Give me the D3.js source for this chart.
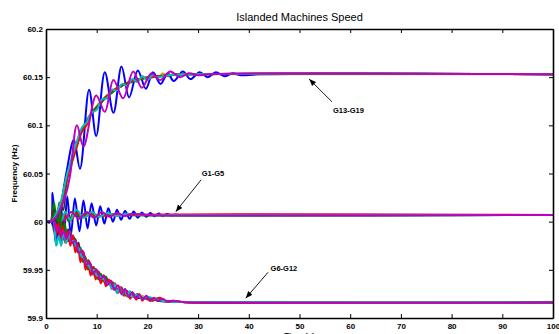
<!DOCTYPE html>
<html>
<head>
<meta charset="utf-8">
<script src="https://cdn.jsdelivr.net/npm/d3@7"></script>
<style>
  html, body { margin: 0; padding: 0; background: #fff; }
  svg { display: block; }
  .tick text { font-family: "Liberation Sans", Arial, sans-serif; font-weight: bold; font-size: 8px; fill: #000; }
</style>
</head>
<body>
<div id="chart"></div>
<script>
// [time (s), frequency (Hz)], one array per machine

// G1-G5
const g1 = [[0,60],[0.9,60],[1.3,60.03],[2.1,59.976],[2.9,60.018],[3.5,59.985],[4.2,60.026],[4.9,59.986],[5.7,60.024],[6.6,59.99],[7.4,60.022],[8.2,59.993],[9.0,60.019],[9.9,59.996],[10.7,60.016],[11.5,59.998],[12.3,60.014],[13.2,60.0],[14.0,60.0125],[14.8,60.002],[15.6,60.011],[16.5,60.003],[17.3,60.0105],[18.1,60.004],[18.9,60.0095],[19.8,60.005],[20.6,60.009],[21.4,60.0055],[22.2,60.0085],[23.0,60.006],[23.9,60.008],[24.7,60.0065],[25.5,60.0075],[26.3,60.0068],[28,60.007],[100,60.007]];
const g2 = [[0,60],[1,60],[1.5,60.012],[2,59.99],[2.6,60.02],[3.2,59.995],[3.8,60.01],[4.5,60.0],[5.5,60.01],[7,60.004],[8.5,60.009],[10,60.005],[12,60.008],[15,60.007],[100,60.007]];
const g3 = [[0,60],[1,60],[1.4,60.005],[2,59.985],[2.7,60.012],[3.3,59.99],[4,60.008],[5,60.002],[6,60.009],[7.5,60.005],[9,60.008],[11,60.006],[14,60.007],[100,60.007]];
const g4 = [[0,60],[1,60],[1.6,59.99],[2.3,60.012],[3,60.0],[3.8,60.01],[4.8,60.002],[6,60.012],[7.5,60.004],[9,60.01],[10.5,60.005],[12,60.009],[14,60.006],[16,60.008],[20,60.007],[100,60.007]];
const g5 = [[0,60],[1,60],[1.5,60.008],[2.2,59.992],[3,59.998],[4,60.004],[5,60.01],[6.5,60.003],[8,60.01],[9.5,60.004],[11,60.01],[12.5,60.005],[14,60.009],[15.5,60.006],[17,60.008],[20,60.007],[100,60.007]];

// G6-G12
const g6 = [[0,60],[1,60],[1.5,60.006],[2,59.99],[2.5,60.0],[3,59.985],[3.5,59.995],[4,59.984],[4.5,59.99],[5,59.98],[5.5,59.983],[6,59.972],[6.5,59.975],[7,59.962],[7.5,59.966],[8,59.953],[8.5,59.956],[9,59.946],[9.5,59.95],[10,59.942],[10.5,59.946],[11,59.939],[11.5,59.942],[12,59.935],[13,59.936],[14,59.927],[15,59.929],[16,59.922],[17,59.926],[18,59.921],[19,59.923],[20,59.919],[22,59.92],[24,59.917],[27,59.9165],[30,59.916],[100,59.916]];
const g7 = [[0,60],[1,60],[1.4,60.015],[1.9,59.995],[2.4,60.012],[2.9,59.99],[3.4,60.0],[3.9,59.985],[4.4,59.992],[4.9,59.98],[5.4,59.985],[5.9,59.973],[6.4,59.978],[6.9,59.963],[7.4,59.968],[7.9,59.954],[8.4,59.96],[8.9,59.948],[9.4,59.953],[9.9,59.943],[10.4,59.948],[10.9,59.94],[11.4,59.944],[12,59.936],[13,59.935],[14,59.929],[15,59.928],[16,59.923],[17,59.925],[18,59.921],[20,59.921],[22,59.918],[25,59.917],[30,59.916],[100,59.916]];
const g8 = [[0,60],[1,60],[1.5,59.995],[2,59.978],[2.6,59.99],[3.2,59.98],[3.8,59.992],[4.4,59.98],[5,59.986],[5.6,59.975],[6.2,59.977],[6.8,59.965],[7.4,59.966],[8,59.955],[8.6,59.957],[9.2,59.948],[9.8,59.949],[10.4,59.943],[11,59.944],[12,59.938],[13,59.934],[14,59.93],[15,59.927],[16,59.925],[18,59.922],[20,59.92],[23,59.918],[27,59.9165],[100,59.916]];
const g9 = [[0,60],[1,60],[1.6,60.02],[2.2,59.992],[2.7,60.01],[3.2,59.985],[3.7,59.998],[4.2,59.98],[4.8,59.99],[5.3,59.978],[5.8,59.982],[6.3,59.968],[6.8,59.973],[7.3,59.958],[7.8,59.963],[8.3,59.95],[8.8,59.956],[9.3,59.945],[9.8,59.951],[10.3,59.94],[10.8,59.946],[11.3,59.938],[11.8,59.943],[12.5,59.935],[13.2,59.937],[14,59.929],[14.8,59.932],[15.6,59.925],[16.4,59.927],[17.2,59.922],[18,59.925],[19,59.92],[20,59.922],[21,59.918],[22,59.92],[24,59.917],[27,59.9165],[100,59.916]];
const g10 = [[0,60],[1,60],[1.4,60.01],[1.8,59.985],[2.3,60.005],[2.8,59.98],[3.3,59.995],[3.8,59.978],[4.3,59.99],[4.8,59.975],[5.3,59.986],[5.8,59.968],[6.3,59.976],[6.8,59.958],[7.3,59.968],[7.8,59.95],[8.3,59.96],[8.8,59.944],[9.3,59.953],[9.8,59.94],[10.3,59.948],[10.8,59.936],[11.3,59.944],[11.8,59.933],[12.4,59.94],[13,59.93],[13.6,59.936],[14.2,59.926],[14.8,59.932],[15.4,59.923],[16,59.928],[16.6,59.92],[17.2,59.926],[17.8,59.919],[18.4,59.924],[19,59.918],[19.6,59.922],[20.5,59.918],[22.5,59.921],[23.5,59.917],[25,59.918],[27,59.9165],[30,59.916],[100,59.916]];
const g11 = [[0,60],[1,60],[1.5,60.008],[2,59.975],[2.5,59.985],[3,59.975],[3.5,59.99],[4,59.978],[4.5,59.988],[5,59.98],[5.5,59.98],[6,59.974],[6.5,59.972],[7,59.964],[7.5,59.962],[8,59.956],[8.5,59.954],[9,59.949],[9.5,59.95],[10,59.944],[10.5,59.944],[11,59.941],[11.5,59.94],[12,59.936],[12.5,59.936],[13,59.93],[13.5,59.935],[14,59.926],[14.5,59.932],[15,59.924],[15.5,59.93],[16,59.923],[16.5,59.928],[17,59.922],[18,59.924],[19,59.92],[20,59.922],[22,59.919],[24,59.917],[27,59.9165],[100,59.916]];
const g12 = [[0,60],[1,60],[1.5,60.01],[2,59.99],[2.5,59.995],[3,59.985],[3.5,59.99],[4,59.982],[4.6,59.99],[5.2,59.978],[5.8,59.98],[6.5,59.968],[7.2,59.97],[7.9,59.955],[8.6,59.958],[9.3,59.946],[10,59.95],[10.7,59.94],[11.4,59.944],[12.1,59.934],[12.8,59.939],[13.5,59.929],[14.2,59.934],[14.9,59.925],[15.6,59.93],[16.3,59.922],[17,59.927],[17.7,59.92],[18.4,59.925],[19.1,59.919],[19.8,59.923],[20.5,59.918],[21.3,59.921],[22,59.918],[23,59.92],[24,59.917],[25,59.918],[27,59.9165],[30,59.916],[100,59.916]];

// G13-G19
const g13 = [[0,60],[1,60],[2,60.005],[2.8,60.015],[3.5,60.03],[4.2,60.05],[4.6,60.052],[5.2,60.062],[6,60.076],[7,60.094],[8,60.106],[9,60.113],[10,60.12],[11,60.126],[12,60.13],[13,60.135],[14,60.139],[15,60.142],[16,60.143],[17,60.147],[18,60.145],[19,60.151],[20,60.147],[21,60.153],[22,60.149],[23,60.154],[24,60.151],[26,60.153],[30,60.153],[100,60.153]];
const g14 = [[0,60],[1,60],[1.6,60.012],[2.2,59.998],[2.8,60.02],[3.4,60.012],[4,60.04],[4.5,60.055],[5,60.062],[6,60.078],[7,60.093],[8,60.104],[9,60.112],[10,60.118],[11,60.124],[12,60.13],[13,60.134],[14,60.138],[15,60.141],[16,60.144],[17,60.146],[18,60.147],[19,60.149],[20,60.15],[22,60.151],[24,60.152],[27,60.153],[100,60.153]];
const g15 = [[0,60],[1,60],[2,60.004],[3,60.02],[4,60.05],[5.5,60.085],[6.7,60.055],[8.5,60.137],[9.9,60.089],[11.6,60.155],[13.3,60.113],[14.9,60.161],[16.4,60.129],[18.1,60.157],[19.7,60.138],[21.1,60.155],[22.6,60.143],[24,60.154],[25.2,60.146],[27,60.156],[28.5,60.148],[30.3,60.155],[31.9,60.15],[33.5,60.155],[35.2,60.151],[36.8,60.154],[38.5,60.152],[42,60.153],[100,60.153]];
const g16 = [[0,60],[1,60],[1.8,60.01],[2.4,60.0],[3,60.018],[3.6,60.028],[4.2,60.045],[5,60.06],[6,60.079],[7,60.094],[8,60.103],[9,60.113],[10,60.119],[11,60.125],[12,60.131],[13,60.134],[14,60.139],[15,60.141],[16,60.144],[17,60.145],[18,60.148],[19,60.148],[20,60.15],[22,60.151],[24,60.152],[27,60.153],[100,60.153]];
const g17 = [[0,60],[1,60],[2,60.006],[3,60.02],[4,60.042],[5,60.061],[6,60.077],[7,60.093],[7.6,60.097],[8,60.1],[9,60.113],[10,60.117],[11,60.126],[12,60.13],[13,60.136],[14,60.138],[15,60.142],[16,60.143],[17,60.146],[18,60.147],[19,60.149],[20,60.149],[22,60.151],[24,60.152],[27,60.153],[100,60.153]];
const g18 = [[0,60],[1,60],[2,60.008],[3,60.022],[4,60.046],[5,60.065],[6,60.082],[7,60.097],[8,60.103],[9,60.113],[10,60.116],[11,60.127],[12,60.128],[13,60.137],[14,60.136],[15,60.143],[16,60.141],[17,60.148],[18,60.145],[19,60.151],[20,60.147],[21,60.152],[22,60.15],[24,60.152],[27,60.153],[100,60.153]];
const g19 = [[0,60],[1,60],[2,60.005],[3,60.015],[4,60.03],[4.8,60.05],[6.1,60.1],[7.4,60.078],[9.9,60.131],[11.6,60.114],[13.3,60.147],[15.2,60.128],[17.2,60.156],[18.9,60.139],[20.8,60.154],[22.5,60.147],[24.5,60.156],[26.4,60.15],[28.2,60.154],[30,60.152],[32,60.153],[100,60.153]];

const machines = [g1, g2, g3, g4, g5, g6, g7, g8, g9, g10, g11, g12, g13, g14, g15, g16, g17, g18, g19];
const colorOrder = ["#0000ff", "#008000", "#ff0000", "#00bfbf", "#bf00bf", "#bfbf00", "#333333"];

const xTicks = [0, 10, 20, 30, 40, 50, 60, 70, 80, 90, 100];
const yTicks = [59.9, 59.95, 60, 60.05, 60.1, 60.15, 60.2];

// group labels: text anchor, arrow start, arrow tip (time, Hz)
const groupLabels = ["G13-G19", "G1-G5", "G6-G12"];
const labelAt = [[56.6, 60.1128], [30.7, 60.0474], [44.3, 59.9488]];
const arrowFrom = [[56.4, 60.1245], [30.6, 60.0435], [43.8, 59.9475]];
const arrowTo = [[51.9, 60.148], [25.6, 60.0104], [39.4, 59.9205]];

const width = 559, height = 334;
const margin = { top: 29, right: 6, bottom: 16, left: 46 };

const svg = d3.select("#chart").append("svg")
  .attr("width", width)
  .attr("height", height);

const x = d3.scaleLinear().domain([0, 100]).range([margin.left, width - margin.right]);
const y = d3.scaleLinear().domain([59.9, 60.2]).range([height - margin.bottom, margin.top]);

svg.append("defs").append("clipPath").attr("id", "plot-clip")
  .append("rect")
  .attr("x", x(0)).attr("y", y(60.2))
  .attr("width", x(100) - x(0)).attr("height", y(59.9) - y(60.2));

const line = d3.line()
  .x(d => x(d[0]))
  .y(d => y(d[1]))
  .curve(d3.curveCatmullRom.alpha(0.5));

svg.append("g")
  .attr("clip-path", "url(#plot-clip)")
  .selectAll("path")
  .data(machines)
  .join("path")
    .attr("d", line)
    .attr("fill", "none")
    .attr("stroke", (d, i) => colorOrder[i % colorOrder.length])
    .attr("stroke-width", 2)
    .attr("stroke-linejoin", "round");

// axes, MATLAB box style with inward ticks
const tickLen = 4;
const styleAxis = g => {
  g.select(".domain").attr("stroke", "#000").attr("stroke-width", 1.6);
  g.selectAll(".tick line").attr("stroke", "#000").attr("stroke-width", 1);
};

svg.append("g")
  .attr("transform", `translate(0,${y(59.9)})`)
  .call(d3.axisBottom(x).tickValues(xTicks).tickSize(-tickLen).tickSizeOuter(0).tickPadding(5).tickFormat(d3.format("d")))
  .call(styleAxis);

svg.append("g")
  .attr("transform", `translate(0,${y(60.2)})`)
  .call(d3.axisTop(x).tickValues(xTicks).tickSize(-tickLen).tickSizeOuter(0).tickFormat(""))
  .call(styleAxis);

svg.append("g")
  .attr("transform", `translate(${x(0)},0)`)
  .call(d3.axisLeft(y).tickValues(yTicks).tickSize(-tickLen).tickSizeOuter(0).tickPadding(3).tickFormat(d => String(+d.toFixed(2))))
  .call(styleAxis);

svg.append("g")
  .attr("transform", `translate(${x(100)},0)`)
  .call(d3.axisRight(y).tickValues(yTicks).tickSize(-tickLen).tickSizeOuter(0).tickFormat(""))
  .call(styleAxis);

// title and axis labels
svg.append("text")
  .attr("x", (x(0) + x(100)) / 2)
  .attr("y", 21)
  .attr("text-anchor", "middle")
  .style("font-family", "Liberation Sans, Arial, sans-serif")
  .style("font-size", "11px")
  .text("Islanded Machines Speed");

svg.append("text")
  .attr("x", (x(0) + x(100)) / 2)
  .attr("y", 338)
  .attr("text-anchor", "middle")
  .style("font-family", "Liberation Sans, Arial, sans-serif")
  .style("font-weight", "bold")
  .style("font-size", "8px")
  .text("Time (s)");

svg.append("text")
  .attr("transform", `translate(17,${(y(59.9) + y(60.2)) / 2}) rotate(-90)`)
  .attr("text-anchor", "middle")
  .style("font-family", "Liberation Sans, Arial, sans-serif")
  .style("font-weight", "bold")
  .style("font-size", "8px")
  .text("Frequency (Hz)");

// annotation arrows
svg.select("defs").append("marker")
  .attr("id", "arrowhead")
  .attr("viewBox", "0 -5 10 10")
  .attr("refX", 10).attr("refY", 0)
  .attr("markerWidth", 7).attr("markerHeight", 7)
  .attr("markerUnits", "userSpaceOnUse")
  .attr("orient", "auto")
  .append("path")
  .attr("d", "M0,-4L10,0L0,4Z")
  .attr("fill", "#000");

const notes = svg.append("g");
groupLabels.forEach((label, i) => {
  notes.append("line")
    .attr("x1", x(arrowFrom[i][0])).attr("y1", y(arrowFrom[i][1]))
    .attr("x2", x(arrowTo[i][0])).attr("y2", y(arrowTo[i][1]))
    .attr("stroke", "#000")
    .attr("stroke-width", 0.9)
    .attr("marker-end", "url(#arrowhead)");
  notes.append("text")
    .attr("x", x(labelAt[i][0]))
    .attr("y", y(labelAt[i][1]))
    .style("font-family", "Liberation Sans, Arial, sans-serif")
    .style("font-weight", "bold")
    .style("font-size", "7.5px")
    .text(label);
});
</script>
</body>
</html>
